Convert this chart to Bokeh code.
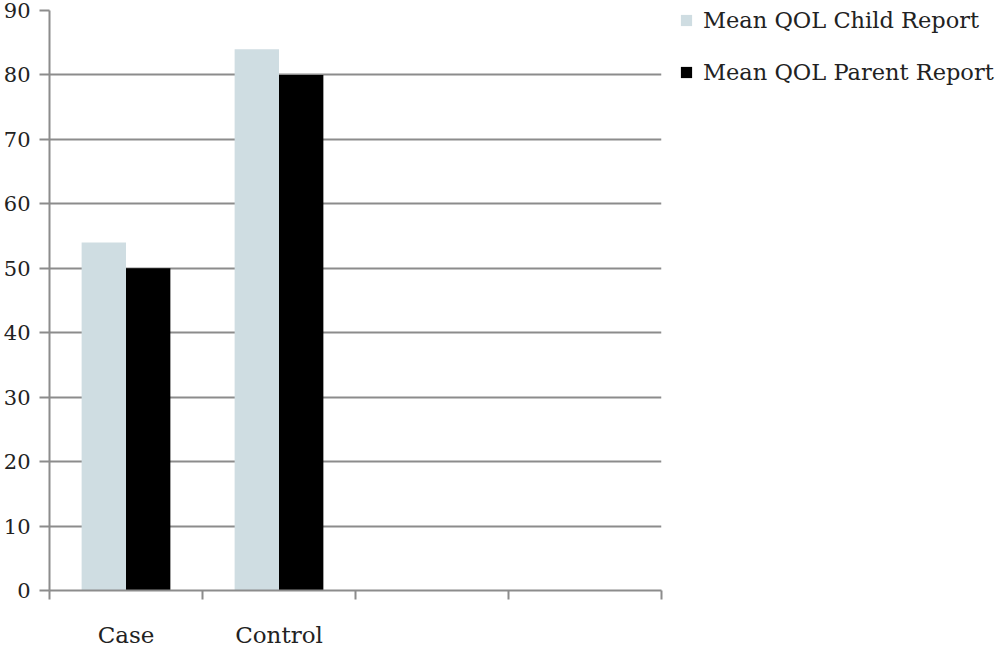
from bokeh.plotting import figure
from bokeh.models import FixedTicker, Range1d, Legend, LegendItem, ColumnDataSource
from bokeh.embed import file_html
from bokeh.resources import INLINE

categories = ["Case", "Control"]
n_slots = 4
child_report = [54, 84]
parent_report = [50, 80]
series_names = ["Mean QOL Child Report", "Mean QOL Parent Report"]
colors = ["#cfdde2", "#000000"]
y_ticks = list(range(0, 91, 10))

FONT = "DejaVu Serif"
GREY = "#8c8c8c"
TXT = "#222222"

p = figure(width=984, height=636, output_backend="svg", toolbar_location=None,
           x_range=Range1d(0, n_slots), y_range=Range1d(0, 90),
           frame_width=612, frame_height=580)
p.min_border_left = 42
p.min_border_top = 10
p.min_border_bottom = 46
p.min_border_right = 0
p.outline_line_color = None

bw = 0.29
xs = [i + 0.5 for i in range(len(categories))]
src = ColumnDataSource(dict(
    xc=[x - bw / 2 for x in xs], xp=[x + bw / 2 for x in xs],
    child=child_report, parent=parent_report))
r1 = p.vbar(x="xc", top="child", width=bw, bottom=0, source=src, fill_color=colors[0], line_color=None)
r2 = p.vbar(x="xp", top="parent", width=bw, bottom=0, source=src, fill_color=colors[1], line_color=None)

p.xgrid.grid_line_color = None
p.ygrid.grid_line_color = GREY
p.ygrid.grid_line_width = 2
p.ygrid.level = "underlay"

p.yaxis.ticker = FixedTicker(ticks=y_ticks)
p.yaxis.axis_line_color = GREY
p.yaxis.axis_line_width = 2
p.yaxis.major_tick_line_color = GREY
p.yaxis.major_tick_line_width = 2
p.yaxis.major_tick_out = 10
p.yaxis.major_tick_in = 0
p.yaxis.minor_tick_line_color = None
p.yaxis.major_label_text_font = FONT
p.yaxis.major_label_text_font_size = "21px"
p.yaxis.major_label_text_color = TXT
p.yaxis.major_label_standoff = 9

p.xaxis.ticker = FixedTicker(ticks=xs, minor_ticks=list(range(n_slots + 1)))
p.xaxis.major_label_overrides = {x: c for x, c in zip(xs, categories)}
p.xaxis.axis_line_color = GREY
p.xaxis.axis_line_width = 2
p.xaxis.major_tick_line_color = None
p.xaxis.major_tick_out = 0
p.xaxis.minor_tick_line_color = GREY
p.xaxis.minor_tick_line_width = 2
p.xaxis.minor_tick_out = 9
p.xaxis.minor_tick_in = 0
p.xaxis.major_label_text_font = FONT
p.xaxis.major_label_text_font_size = "23px"
p.xaxis.major_label_text_color = TXT
p.xaxis.major_label_standoff = 22

legend = Legend(items=[LegendItem(label=series_names[0], renderers=[r1]),
                       LegendItem(label=series_names[1], renderers=[r2])],
                location=(18, 505))
legend.border_line_color = None
legend.background_fill_alpha = 0
legend.margin = 0
legend.padding = 0
legend.glyph_width = 14
legend.glyph_height = 14
legend.label_height = 20
legend.label_standoff = 10
legend.spacing = 26
legend.label_text_font = FONT
legend.label_text_font_size = "22.5px"
legend.label_text_color = TXT
p.add_layout(legend, "right")

open("out.html", "w").write(file_html(p, INLINE))
